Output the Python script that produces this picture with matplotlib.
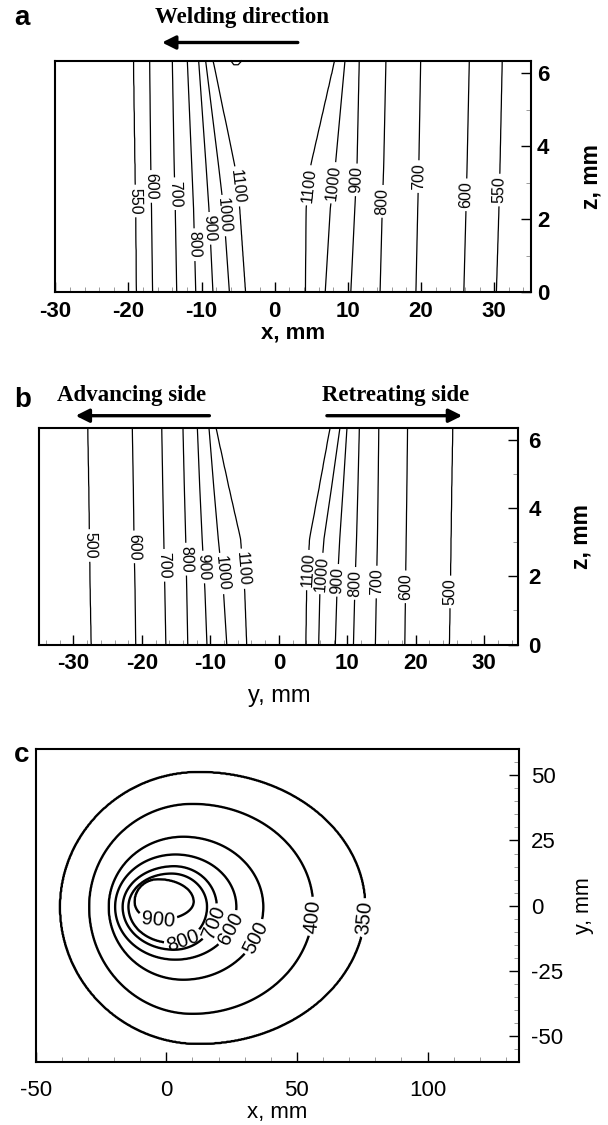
import numpy as np
import matplotlib.pyplot as plt
from matplotlib.ticker import MultipleLocator
from matplotlib.patches import FancyArrowPatch

plt.rcParams['font.family'] = ['Liberation Sans', 'DejaVu Sans']
plt.rcParams['axes.unicode_minus'] = False

# ---------------- panel a : x-z section, isotherm x positions at depths a_z
a_levels = [550, 600, 700, 800, 900, 1000, 1100]
a_z = [0.0, 2.3, 3.5, 6.35]
a_left = [
    [-18.9, -19.0, -19.1, -19.3],
    [-16.7, -16.85, -16.95, -17.1],
    [-13.4, -13.6, -13.75, -14.0],
    [-10.8, -11.1, -11.35, -11.95],
    [-8.45, -9.0, -9.4, -10.4],
    [-6.2, -7.0, -7.7, -9.45],
    [-4.0, -4.8, -5.5, -8.45],
]
a_right = [
    [30.3, 30.65, 30.8, 31.1],
    [25.85, 26.15, 26.3, 26.6],
    [19.3, 19.55, 19.7, 19.95],
    [14.4, 14.7, 14.9, 15.2],
    [10.4, 10.95, 11.25, 11.55],
    [6.9, 7.6, 8.3, 9.6],
    [4.2, 4.3, 4.95, 8.2],
]
a_lab_left = [2.5, 2.9, 2.7, 1.3, 1.75, 2.1, 2.9]
a_lab_right = [2.8, 2.67, 3.17, 2.49, 3.08, 3.0, 2.93]
a_blip_x = [-6.0, -5.6, -5.0, -4.5]
a_blip_z = [6.35, 6.24, 6.24, 6.35]

# ---------------- panel b : y-z section
b_levels = [500, 600, 700, 800, 900, 1000, 1100]
b_z = [0.0, 1.6, 3.1, 4.6, 6.35]
b_left = [
    [-27.4, -27.55, -27.65, -27.75, -27.9],
    [-20.9, -21.0, -21.15, -21.25, -21.4],
    [-16.5, -16.65, -16.8, -16.95, -17.1],
    [-13.3, -13.45, -13.6, -13.8, -14.0],
    [-10.5, -10.8, -11.2, -11.55, -11.9],
    [-7.6, -8.1, -8.85, -9.5, -10.2],
    [-4.7, -5.0, -5.6, -7.3, -9.2],
]
b_right = [
    [24.9, 25.05, 25.15, 25.25, 25.4],
    [18.4, 18.5, 18.6, 18.7, 18.8],
    [14.1, 14.25, 14.4, 14.5, 14.6],
    [10.9, 11.1, 11.35, 11.55, 11.76],
    [8.25, 8.5, 8.9, 9.4, 9.95],
    [5.82, 6.0, 6.6, 7.7, 8.93],
    [3.96, 4.07, 4.5, 5.9, 7.5],
]
b_lab_left = [2.9, 2.86, 2.32, 2.5, 2.27, 2.08, 2.22]
b_lab_right = [1.54, 1.69, 1.83, 1.79, 1.88, 2.08, 2.18]

# ---------------- panel c : top surface x-y, ring extents
c_levels = [350, 400, 500, 600, 700, 800, 900]
c_cx = [12.5, 10.0, 6.5, 3.5, 3.0, 2.0, -3.3]
c_cy = [-0.5, -0.5, -0.5, -0.5, -0.5, -0.5, 1.5]
c_left = [-40.6, -29.5, -22.0, -19.6, -16.7, -14.5, -12.2]
c_right = [76.1, 56.2, 37.1, 26.8, 19.3, 15.6, 10.5]
c_top = [51.2, 39.0, 26.4, 19.6, 15.1, 12.3, 10.2]
c_bottom = [-53.0, -41.5, -28.4, -20.7, -16.9, -14.3, -5.5]
c_lab_x = [76.6, 55.7, 33.4, 24.8, 18.6, 6.7, -3.3]
c_lab_y = [-4.7, -4.1, -11.8, -9.0, -6.7, -13.7, -5.5]


def band_field(xg, zg, zk, left, right, levels, t_out, t_peak):
    T = np.empty((len(zg), len(xg)))
    for i, z in enumerate(zg):
        xl = [np.interp(z, zk, row) for row in left]
        xr = [np.interp(z, zk, row) for row in right]
        xs = [xg[0] - 1] + xl + [(xl[-1] + xr[-1]) / 2] + xr[::-1] + [xg[-1] + 1]
        ts = [t_out] + levels + [t_peak] + levels[::-1] + [t_out]
        T[i] = np.interp(xg, xs, ts)
    return T


def style_axes(ax, bold, xmaj, xmin, ymaj, ymin, xpad, ypad):
    for s in ax.spines.values():
        s.set_linewidth(1.5)
    ax.set_xticks(xmaj)
    ax.set_yticks(ymaj)
    ax.xaxis.set_minor_locator(MultipleLocator(xmin))
    ax.yaxis.set_minor_locator(MultipleLocator(ymin))
    ax.yaxis.tick_right()
    ax.yaxis.set_label_position('right')
    ax.tick_params(which='both', direction='in', top=False, left=False,
                   bottom=True, right=True, labelleft=False, labelright=True)
    ax.tick_params(which='major', length=7, width=1.0, labelsize=16)
    ax.tick_params(which='minor', length=3.5, width=0.6, color='0.55')
    ax.tick_params(axis='x', pad=xpad)
    ax.tick_params(axis='y', pad=ypad)
    for lab in ax.get_xticklabels() + ax.get_yticklabels():
        lab.set_fontweight('bold' if bold else 'normal')


fig = plt.figure(figsize=(6.08, 11.25), dpi=100)
serif = ['Liberation Serif', 'DejaVu Serif']

# ---- a
ax = fig.add_axes([0.0910, 0.7404, 0.7819, 0.2056])
ax.set_xlim(-30, 35)
ax.set_ylim(0, 6.35)
xg = np.linspace(-30, 35, 1301)
zg = np.linspace(0, 6.35, 128)
T = band_field(xg, zg, a_z, a_left, a_right, a_levels, 520, 1160)
cs = ax.contour(xg, zg, T, levels=a_levels, colors='k', linewidths=0.9)
pos = [(np.interp(z, a_z, r), z) for r, z in zip(a_left, a_lab_left)]
pos += [(np.interp(z, a_z, r), z) for r, z in zip(a_right, a_lab_right)]
ax.clabel(cs, fmt='%d', manual=pos, inline=True, inline_spacing=3, fontsize=11.5)
ax.plot(a_blip_x, a_blip_z, color='k', lw=0.9, clip_on=False)
style_axes(ax, True, [-30, -20, -10, 0, 10, 20, 30], 2, [0, 2, 4, 6], 1, 6.5, 4.5)
ax.set_xlabel('x, mm', fontsize=16, fontweight='bold', labelpad=0)
ax.set_ylabel('z, mm', fontsize=16.5, fontweight='bold', labelpad=22)

fig.text(14 / 608, 1 - 25 / 1125, 'a', fontsize=20, fontweight='bold', ha='left', va='baseline')
fig.text(242 / 608, 1 - 17 / 1125, 'Welding direction', family=serif, fontsize=16.5,
         fontweight='bold', ha='center', va='center')
fig.add_artist(FancyArrowPatch((297.8 / 608, 1 - 42.5 / 1125), (162 / 608, 1 - 42.5 / 1125),
                               transform=fig.transFigure, arrowstyle='-|>', mutation_scale=20,
                               lw=2.4, color='k', shrinkA=0, shrinkB=0))

# ---- b
ax = fig.add_axes([0.0645, 0.4271, 0.7882, 0.1927])
ax.set_xlim(-35, 35)
ax.set_ylim(0, 6.35)
xg = np.linspace(-35, 35, 1401)
T = band_field(xg, zg, b_z, b_left, b_right, b_levels, 470, 1160)
cs = ax.contour(xg, zg, T, levels=b_levels, colors='k', linewidths=0.9)
pos = [(np.interp(z, b_z, r), z) for r, z in zip(b_left, b_lab_left)]
pos += [(np.interp(z, b_z, r), z) for r, z in zip(b_right, b_lab_right)]
ax.clabel(cs, fmt='%d', manual=pos, inline=True, inline_spacing=3, fontsize=11.5)
style_axes(ax, True, [-30, -20, -10, 0, 10, 20, 30], 2, [0, 2, 4, 6], 1, 6, 7)
ax.set_xlabel('y, mm', fontsize=17, labelpad=8)
ax.set_ylabel('z, mm', fontsize=16.5, fontweight='bold', labelpad=21)

fig.text(14 / 608, 1 - 406.7 / 1125, 'b', fontsize=20, fontweight='bold', ha='left', va='baseline')
fig.text(131.8 / 608, 1 - 395 / 1125, 'Advancing side', family=serif, fontsize=16.5,
         fontweight='bold', ha='center', va='center')
fig.text(395.5 / 608, 1 - 395 / 1125, 'Retreating side', family=serif, fontsize=16.5,
         fontweight='bold', ha='center', va='center')
fig.add_artist(FancyArrowPatch((209.4 / 608, 1 - 415.7 / 1125), (75.6 / 608, 1 - 415.7 / 1125),
                               transform=fig.transFigure, arrowstyle='-|>', mutation_scale=20,
                               lw=2.4, color='k', shrinkA=0, shrinkB=0))
fig.add_artist(FancyArrowPatch((326.9 / 608, 1 - 415.7 / 1125), (462.2 / 608, 1 - 415.7 / 1125),
                               transform=fig.transFigure, arrowstyle='-|>', mutation_scale=20,
                               lw=2.4, color='k', shrinkA=0, shrinkB=0))

# ---- c
ax = fig.add_axes([0.0587, 0.0560, 0.7949, 0.2780])
ax.set_xlim(-50, 135)
ax.set_ylim(-60, 60)
xg = np.linspace(-50, 135, 741)
yg = np.linspace(-60, 60, 481)
X, Y = np.meshgrid(xg, yg)
PHI = np.arctan2(Y, X)
RAD = np.hypot(X, Y)
rs = [np.zeros_like(RAD)]
for k in range(len(c_levels) - 1, -1, -1):
    ang = np.linspace(0, 2 * np.pi, 1440, endpoint=False)
    co, si = np.cos(ang), np.sin(ang)
    rx = c_cx[k] + np.where(co >= 0, c_right[k] - c_cx[k], c_cx[k] - c_left[k]) * co
    ry = c_cy[k] + np.where(si >= 0, c_top[k] - c_cy[k], c_cy[k] - c_bottom[k]) * si
    ph = np.arctan2(ry, rx)
    o = np.argsort(ph)
    rs.append(np.interp(PHI, ph[o], np.hypot(rx, ry)[o], period=2 * np.pi))
rs.append(np.full_like(RAD, 400.0))
ts = [1000] + c_levels[::-1] + [250]
Tc = np.zeros_like(RAD)
for k in range(len(rs) - 1):
    m = (RAD >= rs[k]) & (RAD < rs[k + 1])
    f = (RAD - rs[k]) / (rs[k + 1] - rs[k])
    Tc = np.where(m, ts[k] + f * (ts[k + 1] - ts[k]), Tc)
cs = ax.contour(xg, yg, Tc, levels=c_levels, colors='k', linewidths=1.7)
ax.clabel(cs, fmt='%d', manual=list(zip(c_lab_x, c_lab_y)), inline=True,
          inline_spacing=3, fontsize=14.5)
style_axes(ax, False, [-50, 0, 50, 100], 10, [-50, -25, 0, 25, 50], 5, 13, 8.5)
ax.set_xlabel('x, mm', fontsize=16, labelpad=1)
ax.set_ylabel('y, mm', fontsize=15.5, labelpad=7)

fig.text(14 / 608, 1 - 761.7 / 1125, 'c', fontsize=20, fontweight='bold', ha='left', va='baseline')

fig.savefig('out.png', dpi=100)
